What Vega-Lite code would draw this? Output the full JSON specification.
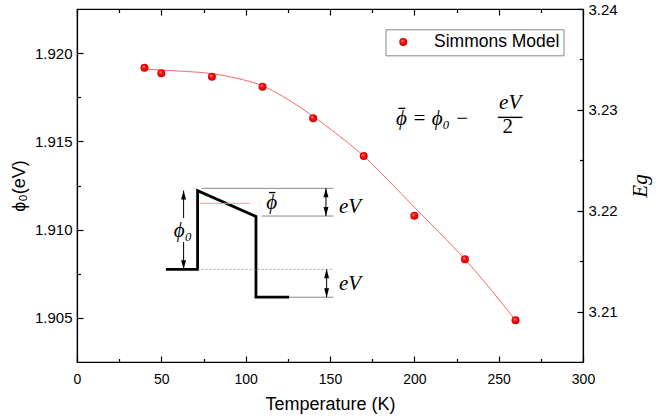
{
  "$schema": "https://vega.github.io/schema/vega-lite/v6.json",
  "width": 506,
  "height": 353,
  "autosize": {"type": "none"},
  "padding": {"left": 77, "top": 9, "right": 80, "bottom": 57},
  "background": "white",
  "config": {
    "view": {"stroke": "black", "strokeWidth": 1.2},
    "axis": {
      "labelFont": "Liberation Sans",
      "titleFont": "Liberation Sans",
      "labelColor": "black",
      "titleColor": "black",
      "titleFontWeight": "normal",
      "domainColor": "black",
      "domainWidth": 1.2,
      "ticks": true,
      "tickColor": "black",
      "tickWidth": 1.2,
      "tickOpacity": 1,
      "grid": false,
      "zindex": 2
    }
  },
  "layer": [
    {
      "encoding": {
        "x": {
          "field": "T", "type": "quantitative",
          "scale": {"domain": [0, 300], "nice": false, "zero": false},
          "axis": {
            "orient": "bottom",
            "title": "Temperature (K)",
            "titleFontSize": 18,
            "titleX": 253, "titleY": 42, "titleBaseline": "middle", "titleAlign": "center",
            "values": [0, 25, 50, 75, 100, 125, 150, 175, 200, 225, 250, 275, 300],
            "labelExpr": "datum.value % 50 === 0 ? datum.label : ''",
            "labelFontSize": 14,
            "labelFlush": false,
            "labelOverlap": false,
            "tickSize": {"condition": {"test": "datum.value % 50 === 0", "value": -6}, "value": -3.5},
            "labelPadding": 16
          }
        },
        "y": {
          "field": "phi", "type": "quantitative",
          "scale": {"domain": [1.9025, 1.9225], "nice": false, "zero": false},
          "axis": {
            "orient": "left",
            "title": "ϕ₀(eV)",
            "titleFontSize": 18,
            "titleX": -57.5, "titleY": 176.5, "titleAngle": 270, "titleBaseline": "middle", "titleAlign": "center",
            "values": [1.905, 1.9075, 1.91, 1.9125, 1.915, 1.9175, 1.92],
            "format": ".3f",
            "labelExpr": "round(datum.value * 1000) % 5 === 0 ? datum.label : ''",
            "labelFontSize": 15,
            "labelOverlap": false,
            "labelFlush": false,
            "tickSize": {"condition": {"test": "round(datum.value * 1000) % 5 === 0", "value": -6}, "value": -3.5},
            "labelPadding": 11
          }
        }
      },
      "layer": [
        {
          "data": {"values": [
            {"T": 40, "phi": 1.9191}, {"T": 50, "phi": 1.91904}, {"T": 65, "phi": 1.91896},
            {"T": 80, "phi": 1.91884}, {"T": 95, "phi": 1.91857}, {"T": 110, "phi": 1.91815},
            {"T": 122, "phi": 1.91755}, {"T": 134, "phi": 1.91682}, {"T": 151, "phi": 1.91564},
            {"T": 170, "phi": 1.91417}, {"T": 185, "phi": 1.91275}, {"T": 200, "phi": 1.91127},
            {"T": 215, "phi": 1.90982}, {"T": 230, "phi": 1.90832}, {"T": 245, "phi": 1.90665},
            {"T": 260, "phi": 1.90486}
          ]},
          "mark": {"type": "line", "color": "#ff6666", "strokeWidth": 1, "interpolate": "monotone"}
        },
        {
          "data": {"values": [
            {"i": 0, "T": 52.7, "phi": 1.90775}, {"i": 1, "T": 71.5, "phi": 1.90775},
            {"i": 2, "T": 71.5, "phi": 1.91221}, {"i": 3, "T": 106.1, "phi": 1.91075},
            {"i": 4, "T": 106.1, "phi": 1.90618}, {"i": 5, "T": 125.8, "phi": 1.90618}
          ]},
          "mark": {"type": "line", "color": "black", "strokeWidth": 2.8, "strokeJoin": "miter"},
          "encoding": {"order": {"field": "i", "type": "quantitative"}}
        },
        {
          "data": {"values": [
            {"T": 73.8, "T2": 152, "phi": 1.91234},
            {"T": 109.5, "T2": 152, "phi": 1.91077},
            {"T": 125.8, "T2": 152, "phi": 1.90617}
          ]},
          "mark": {"type": "rule", "color": "#8a8a8a", "strokeWidth": 1},
          "encoding": {"x2": {"field": "T2"}}
        },
        {
          "data": {"values": [{"T": 71.5, "T2": 152, "phi": 1.90775}]},
          "mark": {"type": "rule", "color": "#8a8a8a", "strokeWidth": 0.8, "strokeDash": [2, 2]},
          "encoding": {"x2": {"field": "T2"}}
        },
        {
          "data": {"values": [{"T": 72.8, "T2": 102.5, "phi": 1.91149}]},
          "mark": {"type": "rule", "color": "#ff9a9a", "strokeWidth": 1},
          "encoding": {"x2": {"field": "T2"}}
        },
        {
          "data": {"values": [
            {"T": 63.2, "phi": 1.91221, "phi2": 1.91066},
            {"T": 63.2, "phi": 1.9093, "phi2": 1.90775},
            {"T": 147.6, "phi": 1.91234, "phi2": 1.91077},
            {"T": 148.0, "phi": 1.90775, "phi2": 1.90617}
          ]},
          "mark": {"type": "rule", "color": "black", "strokeWidth": 1},
          "encoding": {"y2": {"field": "phi2"}}
        },
        {
          "data": {"values": [
            {"T": 63.2, "phi": 1.91221}, {"T": 147.6, "phi": 1.91234}, {"T": 148.0, "phi": 1.90775}
          ]},
          "mark": {"type": "point", "filled": true, "color": "black", "opacity": 1, "size": 81, "shape": "M0,0L0.55,2L-0.55,2Z"}
        },
        {
          "data": {"values": [
            {"T": 63.2, "phi": 1.90775}, {"T": 147.6, "phi": 1.91077}, {"T": 148.0, "phi": 1.90617}
          ]},
          "mark": {"type": "point", "filled": true, "color": "black", "opacity": 1, "size": 81, "shape": "M0,0L0.55,-2L-0.55,-2Z"}
        },
        {
          "data": {"values": [
            {"T": 62.8, "phi": 1.9099, "label": "ϕ₀"},
            {"T": 115.4, "phi": 1.91149, "label": "ϕ"},
            {"T": 161.9, "phi": 1.9113, "label": "eV"},
            {"T": 161.9, "phi": 1.90692, "label": "eV"},
            {"T": 256.8, "phi": 1.9172, "label": "eV"}
          ]},
          "mark": {"type": "text", "font": "Liberation Serif", "fontStyle": "italic", "fontSize": 21, "align": "center", "baseline": "middle", "color": "black"},
          "encoding": {"text": {"field": "label"}}
        },
        {
          "data": {"values": [{"T": 189.2, "phi": 1.91625, "label": "ϕ = ϕ₀ −"}]},
          "mark": {"type": "text", "font": "Liberation Serif", "fontStyle": "italic", "fontSize": 21, "align": "left", "baseline": "middle", "color": "black"},
          "encoding": {"text": {"field": "label"}}
        },
        {
          "data": {"values": [{"T": 255.4, "phi": 1.91579, "label": "2"}]},
          "mark": {"type": "text", "font": "Liberation Serif", "fontSize": 21, "align": "center", "baseline": "middle", "color": "black"},
          "encoding": {"text": {"field": "label"}}
        },
        {
          "data": {"values": [
            {"T": 113.8, "T2": 117.6, "phi": 1.9121},
            {"T": 190.6, "T2": 194.6, "phi": 1.91687}
          ]},
          "mark": {"type": "rule", "color": "black", "strokeWidth": 1.3},
          "encoding": {"x2": {"field": "T2"}}
        },
        {
          "data": {"values": [{"T": 249.5, "T2": 264.1, "phi": 1.91636}]},
          "mark": {"type": "rule", "color": "black", "strokeWidth": 1.4},
          "encoding": {"x2": {"field": "T2"}}
        },
        {
          "data": {"values": [
            {"T": 40, "phi": 1.91917}, {"T": 50, "phi": 1.91886}, {"T": 80, "phi": 1.91866},
            {"T": 110, "phi": 1.9181}, {"T": 140, "phi": 1.91631}, {"T": 170, "phi": 1.91417},
            {"T": 200, "phi": 1.91079}, {"T": 230, "phi": 1.90832}, {"T": 260, "phi": 1.90486}
          ]},
          "mark": {
            "type": "point", "filled": true, "size": 64, "opacity": 1,
            "fill": {"gradient": "radial", "x1": 0.38, "y1": 0.35, "r1": 0, "x2": 0.5, "y2": 0.5, "r2": 0.55,
              "stops": [{"offset": 0, "color": "#ffe0e0"}, {"offset": 0.3, "color": "#ff1a1a"}, {"offset": 0.8, "color": "#e00000"}, {"offset": 1, "color": "#b00000"}]}
          },
          "encoding": {
            "shape": {
              "datum": "Simmons Model",
              "scale": {"domain": ["Simmons Model"], "range": ["circle"]},
              "legend": {
                "title": null, "orient": "none", "legendX": 308.5, "legendY": 20.3,
                "strokeColor": "#888888", "fillColor": "white", "padding": 4,
                "labelFont": "Liberation Sans", "labelFontSize": 17.5, "labelColor": "black",
                "symbolSize": 64, "symbolOffset": 5, "labelOffset": 22, "symbolStrokeWidth": 0
              }
            }
          }
        }
      ]
    },
    {
      "data": {"values": [{"T": 0, "Eg": 3.21}]},
      "mark": {"type": "point", "opacity": 0},
      "encoding": {
        "x": {
          "field": "T", "type": "quantitative",
          "scale": {"domain": [0, 300], "nice": false, "zero": false},
          "axis": {
            "orient": "top", "title": null, "labels": false,
            "values": [0, 25, 50, 75, 100, 125, 150, 175, 200, 225, 250, 275, 300],
            "tickSize": {"condition": {"test": "datum.value % 50 === 0", "value": -6}, "value": -3.5}
          }
        },
        "y": {
          "field": "Eg", "type": "quantitative",
          "scale": {"domain": [3.205, 3.24], "nice": false, "zero": false},
          "axis": {
            "orient": "right",
            "title": "Eg",
            "titleFont": "Liberation Serif", "titleFontStyle": "italic", "titleFontSize": 21,
            "titleX": 57, "titleY": 176.5, "titleAngle": 270, "titleBaseline": "middle", "titleAlign": "center",
            "values": [3.21, 3.215, 3.22, 3.225, 3.23, 3.235, 3.24],
            "format": ".2f",
            "labelExpr": "round(datum.value * 1000) % 10 === 0 ? datum.label : ''",
            "labelFontSize": 15,
            "labelOverlap": false,
            "labelFlush": false,
            "tickSize": {"condition": {"test": "round(datum.value * 1000) % 10 === 0", "value": -6}, "value": -3.5},
            "labelPadding": 11
          }
        }
      }
    }
  ],
  "resolve": {"scale": {"y": "independent"}, "axis": {"x": "independent", "y": "independent"}}
}
